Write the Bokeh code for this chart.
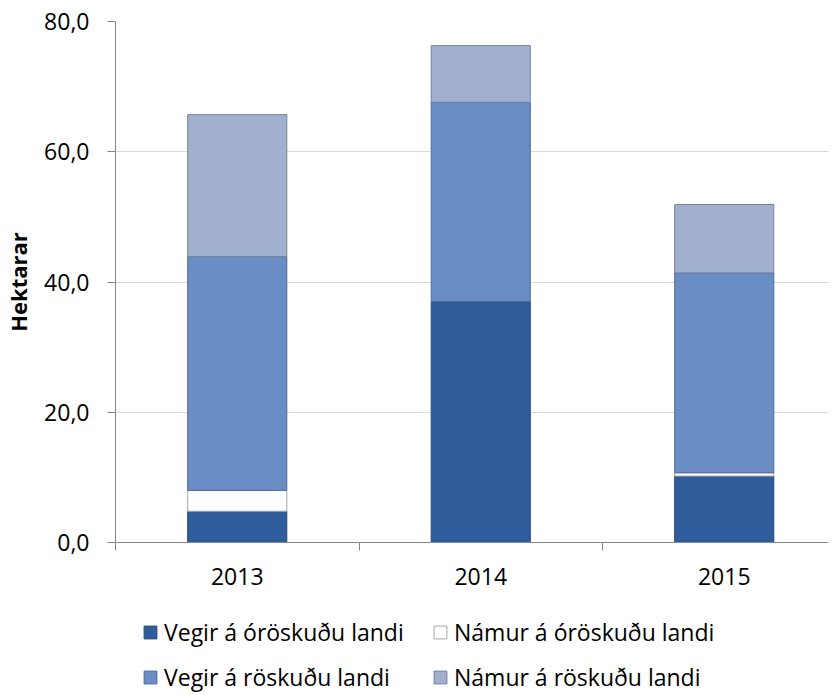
from bokeh.plotting import figure
from bokeh.layouts import column
from bokeh.models import (ColumnDataSource, Range1d, FixedTicker, CustomJSTickFormatter,
                          Legend, LegendItem)
from bokeh.embed import file_html
from bokeh.resources import INLINE

years = ["2013", "2014", "2015"]
series = ["Vegir á óröskuðu landi", "Námur á óröskuðu landi",
          "Vegir á röskuðu landi", "Námur á röskuðu landi"]
vegir_oroskud = [4.8, 37.0, 10.2]
namur_oroskud = [3.2, 0.0, 0.5]
vegir_roskud = [35.9, 30.6, 30.7]
namur_roskud = [21.8, 8.7, 10.5]
y_ticks = [0, 20, 40, 60, 80]

keys = ["s0", "s1", "s2", "s3"]
fills = ["#2f5d9c", "#ffffff", "#6a8dc6", "#a1b0cf"]
lines = ["#27497a", "#a6a6a6", "#4f6a96", "#76829a"]

xpos = [i + 0.5 for i in range(len(years))]
source = ColumnDataSource(dict(x=xpos, s0=vegir_oroskud, s1=namur_oroskud,
                               s2=vegir_roskud, s3=namur_roskud))

FONT = "Open Sans"
FS = "23px"
W = 821
left_border = 108
frame_w, frame_h = W - left_border, 521
cat_px = 243.5

p = figure(width=W, frame_width=frame_w, frame_height=frame_h,
           output_backend="svg", toolbar_location=None,
           x_range=Range1d(0, frame_w / cat_px), y_range=Range1d(0, 80),
           min_border_left=left_border, min_border_right=0, min_border_top=21,
           min_border_bottom=55)
p.outline_line_color = None
p.background_fill_color = "white"

renderers = p.vbar_stack(keys, x="x", width=0.407, source=source,
                         fill_color=fills, line_color=lines, line_width=1)

# y axis
p.yaxis.ticker = FixedTicker(ticks=y_ticks)
p.yaxis.formatter = CustomJSTickFormatter(code="return tick.toFixed(1).replace('.', ',');")
p.yaxis.axis_label = "Hektarar"
p.yaxis.axis_label_text_font = FONT
p.yaxis.axis_label_text_font_style = "bold"
p.yaxis.axis_label_text_font_size = "22px"
p.yaxis.axis_label_text_color = "black"
p.yaxis.axis_label_standoff = 8
p.yaxis.major_label_text_font = FONT
p.yaxis.major_label_text_font_size = FS
p.yaxis.major_label_text_color = "black"
p.yaxis.major_label_standoff = 18
p.yaxis.major_tick_out = 8
p.yaxis.major_tick_in = 0
p.yaxis.minor_tick_line_color = None
p.yaxis.axis_line_color = "#868686"
p.yaxis.major_tick_line_color = "#868686"

# x axis
p.xaxis.ticker = FixedTicker(ticks=xpos, minor_ticks=list(range(len(years) + 1)))
p.xaxis.major_label_overrides = {x: y for x, y in zip(xpos, years)}
p.xaxis.major_label_text_font = FONT
p.xaxis.major_label_text_font_size = FS
p.xaxis.major_label_text_color = "black"
p.xaxis.major_label_standoff = 17
p.xaxis.major_tick_out = 0
p.xaxis.major_tick_in = 0
p.xaxis.major_tick_line_color = None
p.xaxis.minor_tick_out = 8
p.xaxis.minor_tick_in = 0
p.xaxis.minor_tick_line_color = "#868686"
p.xaxis.axis_line_color = "#868686"

p.xgrid.grid_line_color = None
p.ygrid.grid_line_color = "#d9d9d9"
p.ygrid.grid_line_width = 1

# legend strip below the chart (same data, bars kept out of its view)
lp = figure(width=W, height=96, output_backend="svg", toolbar_location=None,
            min_border=0, x_range=Range1d(-10, -9), y_range=Range1d(0, 80))
lp.outline_line_color = None
lp.axis.visible = False
lp.grid.visible = False
leg_renderers = lp.vbar_stack(keys, x="x", width=0.407, source=source,
                              fill_color=fills, line_color=lines, line_width=1)

order = [0, 2, 1, 3]
legend = Legend(items=[LegendItem(label=series[i], renderers=[leg_renderers[i]]) for i in order],
                orientation="vertical", nrows=2, location=(27, 0),
                label_text_font=FONT, label_text_font_size=FS,
                label_text_color="black", label_width=255, spacing=13,
                glyph_width=16, glyph_height=16, label_standoff=6,
                padding=0, margin=0, border_line_color=None,
                background_fill_alpha=0)
lp.add_layout(legend)

layout = column(p, lp, spacing=0)
open("out.html", "w").write(file_html(layout, INLINE))
